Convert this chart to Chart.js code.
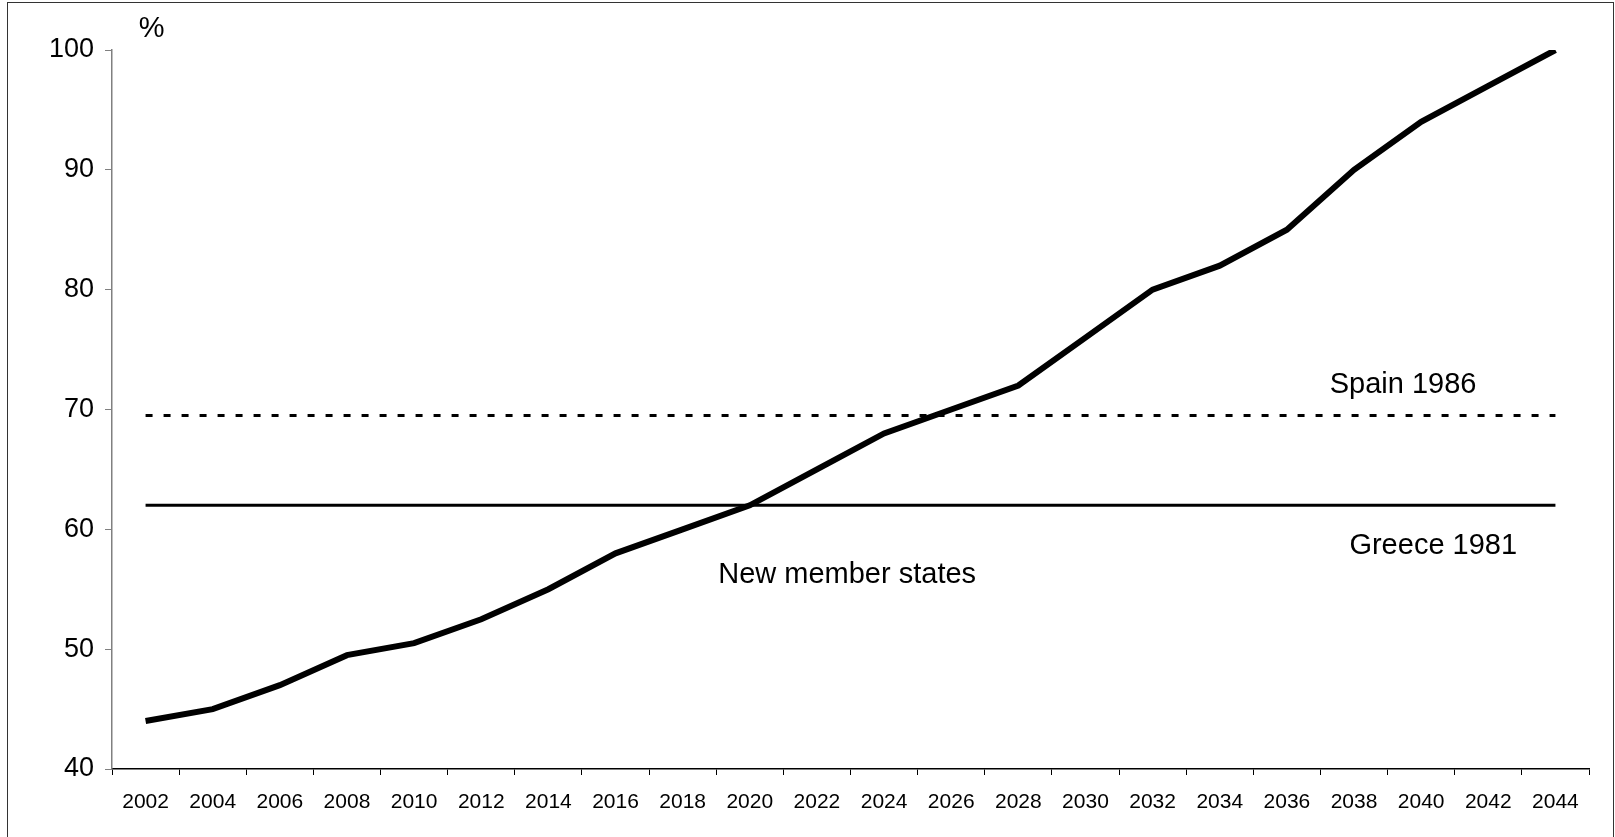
<!DOCTYPE html>
<html>
<head>
<meta charset="utf-8">
<script src="https://cdn.jsdelivr.net/npm/chart.js@4"></script>
<style>
  html, body { margin: 0; padding: 0; background: #fff; }
  #wrap { width: 1615px; height: 837px; }
</style>
</head>
<body>
<div id="wrap"><canvas id="chart" width="1615" height="837"></canvas></div>
<script>
// years on the x axis
const years = ['2002','2004','2006','2008','2010','2012','2014','2016','2018','2020','2022',
               '2024','2026','2028','2030','2032','2034','2036','2038','2040','2042','2044'];
// new member states, %
const newMembers = [44, 45, 47, 49.5, 50.5, 52.5, 55, 58, 60, 62, 65,
                    68, 70, 72, 76, 80, 82, 85, 90, 94, 97, 100];
// reference levels, drawn from first to last year
const spainLevel = [69.5, 69.5];
const greeceLevel = [62, 62];
// text labels: [text, category index, value]
const notes = [
    ['Spain 1986', 18.73, 72.05],
    ['Greece 1981', 19.18, 58.65],
    ['New member states', 10.45, 56.15],
    ['%', 0.09, 101.75]
];

const ends = [years[0], years[years.length - 1]];

const data = {
    labels: years,
    datasets: [
        {
            label: 'New member states',
            data: newMembers,
            borderColor: '#000',
            borderWidth: 6,
            order: 0
        },
        {
            label: 'Spain 1986',
            data: spainLevel.map((v, i) => ({x: ends[i], y: v})),
            borderColor: '#000',
            borderWidth: 3,
            borderDash: [7, 11],
            order: 1
        },
        {
            label: 'Greece 1981',
            data: greeceLevel.map((v, i) => ({x: ends[i], y: v})),
            borderColor: '#000',
            borderWidth: 3,
            order: 2
        }
    ]
};

const notesPlugin = {
    id: 'notes',
    beforeDraw(chart) {
        const ctx = chart.ctx;
        ctx.save();
        ctx.fillStyle = '#fff';
        ctx.fillRect(0, 0, chart.width, chart.height);
        ctx.strokeStyle = '#333';
        ctx.lineWidth = 1;
        ctx.strokeRect(7.5, 2.5, 1606, 860);
        ctx.restore();
    },
    afterDraw(chart) {
        const ctx = chart.ctx;
        const xs = chart.scales.x, ys = chart.scales.y;
        ctx.save();
        ctx.fillStyle = '#000';
        ctx.font = '29px "Liberation Sans", Arial, sans-serif';
        ctx.textAlign = 'center';
        ctx.textBaseline = 'middle';
        notes.forEach(n => {
            ctx.fillText(n[0], xs.getPixelForValue(n[1]), ys.getPixelForValue(n[2]));
        });
        ctx.restore();
    }
};

const config = {
    type: 'line',
    data,
    options: {
        responsive: false,
        animation: false,
        layout: {
            padding: { top: 50, right: 26, bottom: 0, left: 0 }
        },
        plugins: {
            legend: { display: false },
            tooltip: { enabled: false }
        },
        elements: {
            point: { radius: 0 },
            line: { tension: 0 }
        },
        scales: {
            x: {
                type: 'category',
                offset: true,
                grid: {
                    offset: true,
                    drawOnChartArea: false,
                    tickLength: 6,
                    color: '#000'
                },
                border: { color: '#000', width: 1.5 },
                ticks: {
                    color: '#000',
                    autoSkip: false,
                    maxRotation: 0,
                    padding: 15,
                    font: { family: '"Liberation Sans", Arial', size: 21 }
                },
                afterFit(scale) { scale.height = 68; }
            },
            y: {
                min: 40,
                max: 100,
                grid: {
                    drawOnChartArea: false,
                    tickLength: 7,
                    color: '#808080'
                },
                border: { color: '#808080', width: 1.5 },
                ticks: {
                    stepSize: 10,
                    color: '#000',
                    padding: 11,
                    font: { family: '"Liberation Sans", Arial', size: 27 }
                },
                afterFit(scale) { scale.width = 112; }
            }
        }
    },
    plugins: [notesPlugin]
};

var chart = document.getElementById('chart');
var myChart = new Chart(chart, config);
</script>
</body>
</html>
